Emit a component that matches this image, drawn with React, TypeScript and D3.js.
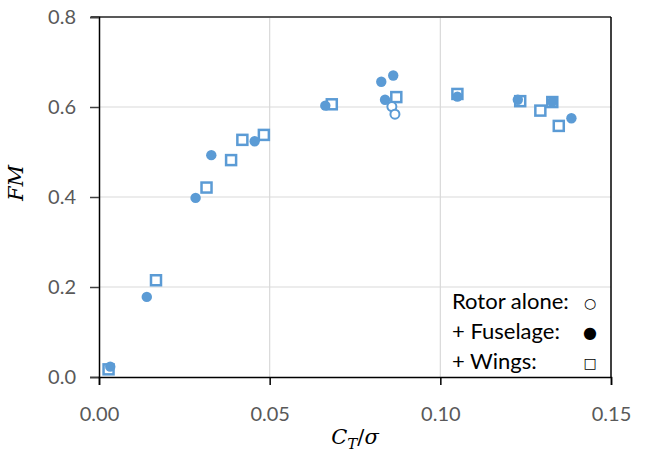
import React, { useRef, useEffect } from 'react';
import * as d3 from 'd3';

// C_T/sigma and FM
const rotorCT = [0.0858, 0.0867];
const rotorFM = [0.601, 0.584];
const fuselageCT = [0.0033, 0.014, 0.0283, 0.0329, 0.0456, 0.0663, 0.0827, 0.0838, 0.0862, 0.105, 0.1227, 0.1328, 0.1384];
const fuselageFM = [0.023, 0.178, 0.398, 0.493, 0.524, 0.603, 0.656, 0.616, 0.67, 0.623, 0.616, 0.612, 0.575];
const wingsCT = [0.0028, 0.0167, 0.0315, 0.0387, 0.042, 0.0483, 0.0682, 0.0871, 0.105, 0.1234, 0.1293, 0.1328, 0.1347];
const wingsFM = [0.017, 0.215, 0.421, 0.482, 0.527, 0.538, 0.606, 0.622, 0.629, 0.613, 0.592, 0.611, 0.558];

const xTicks = [0, 0.05, 0.1, 0.15];
const yTicks = [0, 0.2, 0.4, 0.6, 0.8];
const legendLabels = ['Rotor alone:', '+ Fuselage:', '+ Wings:'];
const legendSymbols = ['○', '●', '□'];

const BLUE = '#5b9bd5';

export default function App() {
  const svgRef = useRef<SVGSVGElement>(null);

  useEffect(() => {
    const width = 646,
      height = 453;
    const margin = { top: 17, right: 35, bottom: 76, left: 99 };
    const w = width - margin.left - margin.right,
      h = height - margin.top - margin.bottom;

    const root = d3.select(svgRef.current);
    root.selectAll('*').remove();
    const svg = root.append('g').attr('transform', `translate(${margin.left},${margin.top})`);

    const x = d3.scaleLinear().domain([0, 0.15]).range([0, w]);
    const y = d3.scaleLinear().domain([0, 0.8]).range([h, 0]);

    // gridlines
    svg
      .append('g')
      .selectAll('line')
      .data(yTicks.slice(1, -1))
      .enter()
      .append('line')
      .attr('x1', 0)
      .attr('x2', w)
      .attr('y1', d => y(d))
      .attr('y2', d => y(d))
      .attr('stroke', '#d9d9d9')
      .attr('stroke-width', 1.2);
    svg
      .append('g')
      .selectAll('line')
      .data(xTicks.slice(1, -1))
      .enter()
      .append('line')
      .attr('y1', 0)
      .attr('y2', h)
      .attr('x1', d => x(d))
      .attr('x2', d => x(d))
      .attr('stroke', '#d9d9d9')
      .attr('stroke-width', 1.2);

    // frame top + right
    svg.append('line').attr('x1', -8).attr('x2', w).attr('y1', 0).attr('y2', 0).attr('stroke', '#595959').attr('stroke-width', 2);
    svg.append('line').attr('x1', w).attr('x2', w).attr('y1', 0).attr('y2', h).attr('stroke', '#000').attr('stroke-width', 1.5);

    // axes
    const yAxis = svg
      .append('g')
      .call(d3.axisLeft(y).tickValues(yTicks).tickFormat(d3.format('.1f')).tickSize(9).tickPadding(14));
    yAxis.select('.domain').attr('stroke', '#000').attr('stroke-width', 1.5);
    yAxis.selectAll('.tick line').attr('stroke', '#404040').attr('stroke-width', 1.5);
    yAxis.selectAll('text').attr('fill', '#595959').attr('font-size', '20px').attr('font-family', 'Lato, sans-serif');

    const xAxis = svg
      .append('g')
      .attr('transform', `translate(0,${h})`)
      .call(d3.axisBottom(x).tickValues(xTicks).tickFormat(d3.format('.2f')).tickSize(8).tickPadding(22));
    xAxis.select('.domain').attr('stroke', '#000').attr('stroke-width', 1.5);
    xAxis.selectAll('.tick line').attr('stroke', '#000').attr('stroke-width', 1.5);
    xAxis.selectAll('text').attr('fill', '#595959').attr('font-size', '20px').attr('font-family', 'Lato, sans-serif');

    // wings: open squares
    svg
      .selectAll('.wing')
      .data(wingsCT)
      .enter()
      .append('rect')
      .attr('x', d => x(d) - 5)
      .attr('y', (d, i) => y(wingsFM[i]) - 5)
      .attr('width', 10)
      .attr('height', 10)
      .attr('fill', '#fff')
      .attr('stroke', BLUE)
      .attr('stroke-width', 2.5);

    // fuselage: filled circles
    svg
      .selectAll('.fus')
      .data(fuselageCT)
      .enter()
      .append('circle')
      .attr('cx', d => x(d))
      .attr('cy', (d, i) => y(fuselageFM[i]))
      .attr('r', 5.2)
      .attr('fill', BLUE);

    // rotor alone: open circles
    svg
      .selectAll('.rot')
      .data(rotorCT)
      .enter()
      .append('circle')
      .attr('cx', d => x(d))
      .attr('cy', (d, i) => y(rotorFM[i]))
      .attr('r', 4.5)
      .attr('fill', '#fff')
      .attr('stroke', BLUE)
      .attr('stroke-width', 2);

    // legend text box
    const leg = svg.append('g').attr('transform', `translate(${w - 159},${h - 68})`);
    leg
      .selectAll('.lt')
      .data(legendLabels)
      .enter()
      .append('text')
      .attr('x', 0)
      .attr('y', (d, i) => i * 30)
      .attr('font-family', 'Lato, sans-serif')
      .attr('font-size', '22px')
      .attr('fill', '#000')
      .text(d => d);
    leg
      .selectAll('.ls')
      .data(legendSymbols)
      .enter()
      .append('text')
      .attr('x', 138)
      .attr('y', (d, i) => i * 30 - 1)
      .attr('text-anchor', 'middle')
      .attr('font-family', 'DejaVu Sans, sans-serif')
      .attr('font-size', (d, i) => (i === 1 ? '16px' : '14px'))
      .attr('fill', '#000')
      .text(d => d);

    // axis titles
    const xt = root
      .append('text')
      .attr('x', margin.left + w / 2)
      .attr('y', 444)
      .attr('text-anchor', 'middle')
      .attr('font-family', 'DejaVu Serif, serif')
      .attr('font-size', '21px')
      .attr('fill', '#000');
    xt.append('tspan').attr('font-style', 'italic').text('C');
    xt.append('tspan').attr('font-style', 'italic').attr('font-size', '15px').attr('dy', 5).text('T');
    xt.append('tspan').attr('dy', -5).text('/');
    xt.append('tspan').attr('font-style', 'italic').text('σ');

    root
      .append('text')
      .attr('transform', 'translate(23,183) rotate(-90)')
      .attr('text-anchor', 'middle')
      .attr('font-family', 'DejaVu Serif, serif')
      .attr('font-style', 'italic')
      .attr('font-size', '21px')
      .attr('fill', '#000')
      .text('FM');
  }, []);

  return (
    <svg
      ref={svgRef}
      width={646}
      height={453}
      style={{ position: 'absolute', left: 0, top: 0, background: '#fff' }}
    />
  );
}
